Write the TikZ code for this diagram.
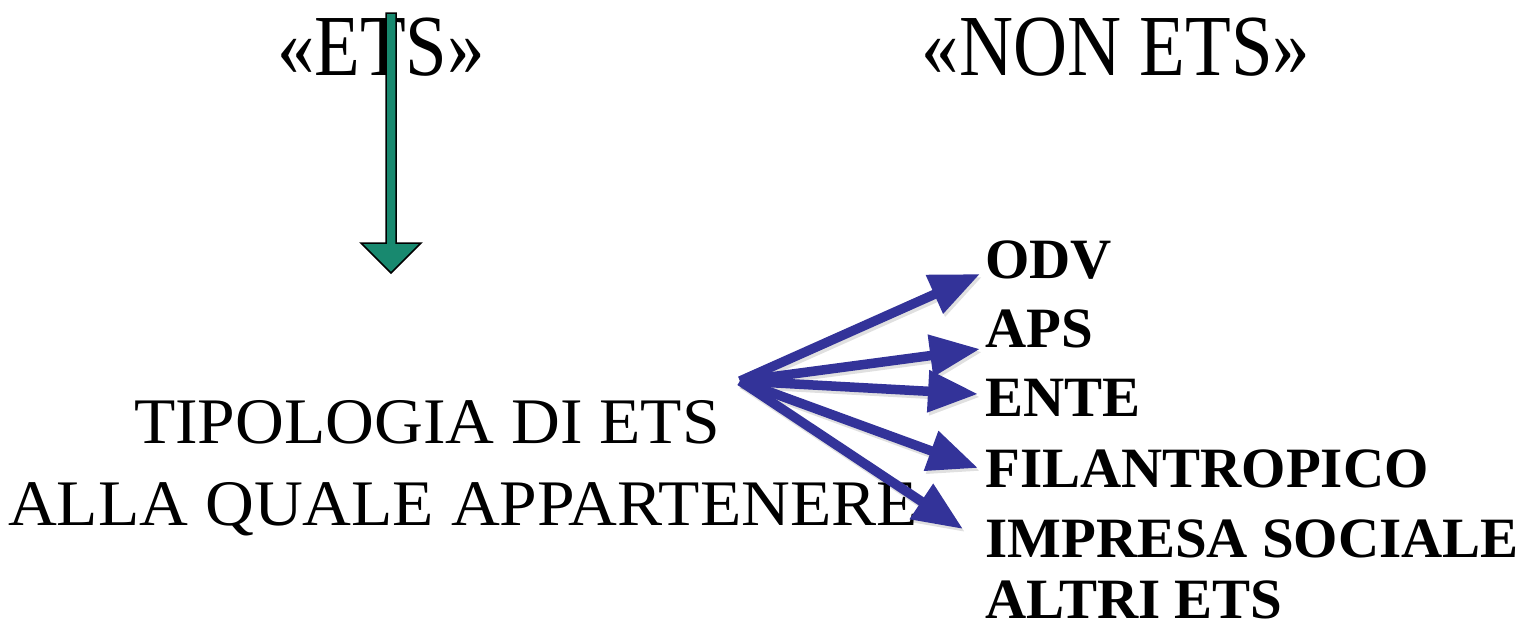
\documentclass[tikz,border=0pt]{standalone}
\usepackage{fontspec}
\setmainfont{Liberation Serif}
\newfontfamily\headfont[FakeStretch=0.86]{Liberation Serif}
\newfontfamily\bodyfont[FakeStretch=1.04]{Liberation Serif}
\usetikzlibrary{arrows.meta,calc}
\definecolor{tealarrow}{HTML}{18896F}
\definecolor{navyarrow}{HTML}{333399}
\begin{document}
\begin{tikzpicture}[x=1pt,y=-1pt,
  title/.style={font=\headfont\fontsize{87}{87}\selectfont, anchor=base, inner sep=0pt},
  body/.style={font=\bodyfont\fontsize{65}{65}\selectfont, anchor=base, inner sep=0pt},
  item/.style={font=\fontsize{57}{57}\selectfont\bfseries, anchor=base west, inner sep=0pt},
  link/.style={draw=navyarrow, line width=9.5pt, -{Triangle[length=50pt,width=40pt]}},
  linkshadow/.style={draw=black, opacity=0.12, line width=9.5pt, -{Triangle[length=50pt,width=40pt]}},
  bigarrow/.style={fill=tealarrow, draw=black, line width=1.5pt, line join=miter}]
\useasboundingbox (0,0) rectangle (1520,627);

% headings
\node[title] (ets) at (381,75) {«ETS»};
\node[title] (nonets) at (1116,75) {«NON ETS»};

% centre text
\node[body] (tip1) at (427,443) {TIPOLOGIA DI ETS};
\node[body] (tip2) at (463,525) {ALLA QUALE APPARTENERE};

% list of types
\node[item] (odv) at (985,278) {ODV};
\node[item] (aps) at (985,347) {APS};
\node[item] (ente) at (985,416) {ENTE};
\node[item] (fil) at (985,487) {FILANTROPICO};
\node[item] (imp) at (985,557) {IMPRESA SOCIALE};
\node[item] (altri) at (985,618) {ALTRI ETS};

% thick down arrow from the ETS heading
\coordinate (gtop) at (391,13);
\coordinate (gtip) at (391,273);
\draw[bigarrow] ($(gtop)+(-5,0)$) -- ($(gtop)+(5,0)$) -- ($(gtip)+(5,-30)$)
  -- ($(gtip)+(30,-30)$) -- (gtip) -- ($(gtip)+(-30,-30)$)
  -- ($(gtip)+(-5,-30)$) -- cycle;

% fan of arrows to the list
\coordinate (hub) at (740,381);
\coordinate (e1) at (980,274);
\coordinate (e2) at (980,349);
\coordinate (e3) at (978,394);
\coordinate (e4) at (978,468);
\coordinate (e5) at (963,529);
\foreach \e in {e1,e2,e3,e4,e5}
  \draw[linkshadow] ($(hub)+(2,3)$) -- ($(\e)+(2,3)$);
\foreach \e in {e1,e2,e3,e4,e5}
  \draw[link] (hub) -- (\e);
\end{tikzpicture}
\end{document}
